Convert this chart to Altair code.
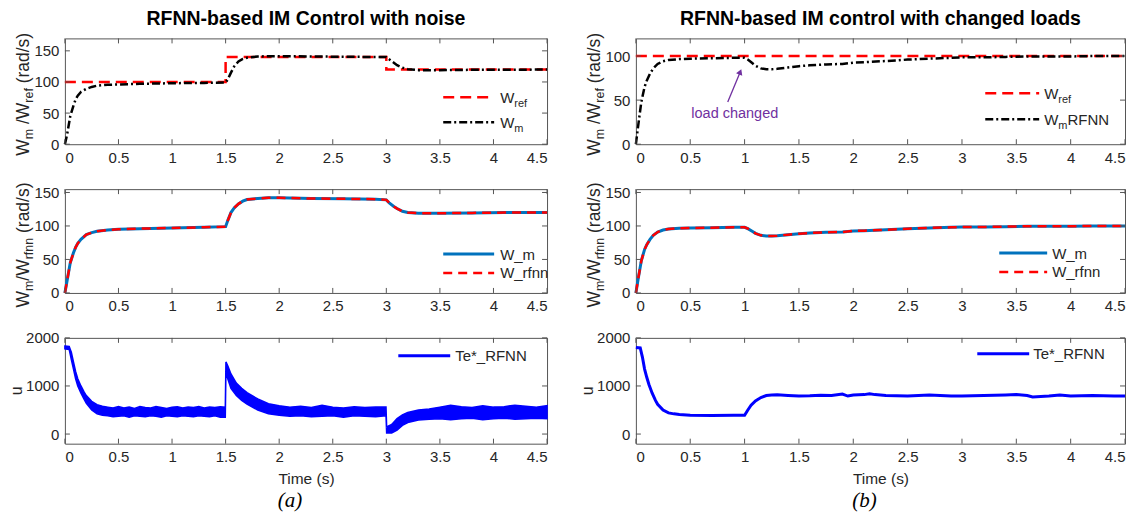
import altair as alt
import pandas as pd

FONT = "Liberation Sans"
SERIF = "Liberation Serif"
TXT = "#262626"
FRAME = "#555555"
RED = "#ff0000"
BLACK = "#000000"
MBLUE = "#0072bd"
BLUE = "#0000ff"
PURPLE = "#7030a0"

# ---------------- data ----------------
XTICKS = [0, 0.5, 1, 1.5, 2, 2.5, 3, 3.5, 4, 4.5]

# (a) top: speed reference and measured speed
A1_REF_T = [0, 1.5, 1.5, 3.0, 3.0, 4.5]
A1_REF_V = [100, 100, 140, 140, 120, 120]
A1_WM_T = [0, 0.02, 0.05, 0.08, 0.1, 0.12, 0.15, 0.2, 0.25, 0.3, 0.4, 0.5, 0.7, 1.0, 1.3, 1.5,
           1.52, 1.55, 1.58, 1.62, 1.66, 1.7, 1.8, 2.0, 2.3, 2.6, 3.0, 3.03, 3.07, 3.1, 3.15,
           3.2, 3.3, 3.5, 3.8, 4.1, 4.5]
A1_WM_V = [0, 15, 45, 62, 72, 78, 84, 89, 92, 94, 95.5, 96, 97, 98, 98.5, 99,
           104, 115, 125, 133, 137, 139, 141, 141.5, 141, 140.5, 140, 136, 131, 127, 123,
           120.5, 119, 119, 119.5, 119.5, 120]

# (a) middle: W_m and W_rfnn
A2_T = [0, 0.02, 0.05, 0.08, 0.1, 0.12, 0.15, 0.2, 0.25, 0.3, 0.4, 0.5, 0.7, 1.0, 1.3, 1.5,
        1.52, 1.55, 1.58, 1.62, 1.66, 1.7, 1.8, 1.9, 2.0, 2.3, 2.6, 2.9, 3.0, 3.03, 3.07, 3.1,
        3.15, 3.2, 3.3, 3.5, 3.8, 4.1, 4.5]
A2_WM = [0, 18, 45, 60, 68, 74, 80, 87, 90, 92, 94, 95, 96, 97, 98, 99,
         108, 120, 127, 133, 137, 139.5, 141, 142, 142, 141, 140.5, 140, 139, 134, 129, 126,
         122, 120, 119, 119, 119.5, 120, 120]
A2_WRFNN = [0, 18, 45, 60, 68, 74, 80, 87, 90, 92, 94, 95, 96, 97, 98, 99,
            108, 120, 127, 133, 137, 139.5, 141, 142, 142, 141, 140.5, 140, 139, 134, 129, 126,
            122, 120, 119, 119, 119.5, 120, 120]

# (a) bottom: control effort band (upper / lower edge of the noisy trace)
A3_T = [0, 0.04, 0.06, 0.08, 0.1, 0.12, 0.15, 0.18, 0.2, 0.25, 0.3, 0.35, 0.4, 0.45, 0.5,
        0.55, 0.6, 0.65, 0.7, 0.75, 0.8, 0.85, 0.9, 0.95, 1.0, 1.05, 1.1, 1.15, 1.2, 1.25,
        1.3, 1.35, 1.4, 1.45, 1.497, 1.503, 1.52, 1.55, 1.6, 1.65, 1.7, 1.8, 1.9,
        2.0, 2.1, 2.2, 2.3, 2.4, 2.5, 2.6, 2.7, 2.8, 2.9, 2.997, 3.003, 3.05, 3.1, 3.15,
        3.2, 3.3, 3.4, 3.5, 3.6, 3.7, 3.8, 3.9, 4.0, 4.1, 4.2, 4.3, 4.4, 4.5]
A3_HI = [1830, 1820, 1700, 1500, 1300, 1150, 1000, 870, 800, 680, 610, 580, 560, 540, 570,
         540, 560, 530, 570, 550, 540, 570, 550, 530, 560, 570, 540, 560, 550, 570,
         540, 560, 550, 570, 560, 1500, 1420, 1250, 1060, 950, 860, 730, 630,
         590, 560, 580, 550, 600, 560, 540, 570, 550, 560, 560, 150, 200, 320, 400,
         450, 500, 520, 560, 600, 570, 550, 590, 560, 570, 600, 580, 560, 590]
A3_LO = [1770, 1760, 1550, 1350, 1150, 1000, 850, 720, 640, 500, 420, 390, 380, 360, 370,
         380, 350, 380, 370, 360, 380, 370, 350, 380, 370, 360, 380, 370, 360, 380,
         370, 360, 380, 350, 350, 1300, 1150, 950, 800, 700, 620, 500, 420,
         390, 370, 380, 360, 370, 380, 350, 380, 370, 360, 380, 20, 20, 80, 180,
         240, 290, 310, 320, 300, 320, 330, 300, 320, 330, 310, 320, 330, 320]

# (b) top
B1_REF_T = [0, 4.5]
B1_REF_V = [100, 100]
B1_T = [0, 0.02, 0.05, 0.08, 0.1, 0.13, 0.16, 0.2, 0.25, 0.3, 0.4, 0.5, 0.7, 0.9, 1.0, 1.03,
        1.07, 1.1, 1.15, 1.2, 1.25, 1.3, 1.4, 1.5, 1.6, 1.75, 1.9, 2.0, 2.1, 2.25, 2.4, 2.5,
        2.7, 2.9, 3.0, 3.2, 3.4, 3.6, 3.8, 4.0, 4.2, 4.5]
B1_WM = [0, 20, 48, 65, 72, 80, 86, 91, 94, 95.5, 96.5, 97, 97.5, 98, 98, 96,
         92, 89, 86, 85, 85, 85.5, 87, 88.5, 89.5, 90.5, 91, 92.5, 93, 94, 95, 96,
         97, 98, 98.5, 98.5, 99, 99.5, 99.5, 99.5, 100, 100]

# (b) middle
B2_T = B1_T
B2_WM = [0, 20, 48, 65, 72, 80, 86, 91, 94, 95.5, 96.5, 97, 97.5, 98, 98, 96,
         92, 89, 86, 85, 85, 85.5, 87, 88.5, 89.5, 90.5, 91, 92.5, 93, 94, 95, 96,
         97, 98, 98.5, 98.5, 99, 99.5, 99.5, 99.5, 100, 100]
B2_WRFNN = B2_WM

# (b) bottom
B3_T = [0, 0.04, 0.06, 0.08, 0.1, 0.12, 0.15, 0.18, 0.2, 0.25, 0.3, 0.35, 0.4, 0.5, 0.7, 0.9,
        1.0, 1.03, 1.06, 1.1, 1.15, 1.2, 1.25, 1.3, 1.4, 1.5, 1.6, 1.7, 1.8, 1.9, 1.95, 2.0,
        2.1, 2.15, 2.2, 2.3, 2.5, 2.7, 2.9, 3.0, 3.2, 3.4, 3.5, 3.6, 3.65, 3.8, 3.9, 4.0, 4.2,
        4.4, 4.5]
B3_TE = [1800, 1790, 1600, 1350, 1180, 1030, 850, 700, 620, 500, 440, 420, 405, 390, 385, 390,
         390, 500, 600, 690, 760, 800, 810, 815, 800, 790, 795, 805, 800, 830, 790, 810,
         820, 840, 820, 800, 790, 810, 790, 790, 800, 810, 820, 800, 770, 790, 810, 790, 800,
         790, 790]

ANNOT_T = [0.91]
ANNOT_V = [34]
ARROW_T = [0.845]
ARROW_V = [48]
ARROW_T2 = [0.96]
ARROW_V2 = [82]

# ---------------- helpers ----------------
ONE = pd.DataFrame({"k": [0]})
CW = {" ": 278, "(": 333, ")": 333, "/": 278, "W": 944, "a": 556, "d": 556, "e": 556,
      "f": 278, "m": 833, "n": 556, "r": 333, "s": 500, "u": 556, "R": 722, "F": 611,
      "N": 722, "T": 611, "*": 389, "_": 556, "l": 222, "o": 556, "c": 500, "h": 556,
      "g": 556, "i": 222, "t": 278}


def tw(s, size):
    return sum(CW.get(c, 556) for c in s) / 1000.0 * size


def xsc():
    return alt.Scale(domain=[0, 4.5], nice=False, zero=False)


def ysc(dom):
    return alt.Scale(domain=dom, nice=False, zero=False)


def xaxis(title=""):
    return alt.Axis(values=XTICKS, format="~g", labelPadding=6, title=title, titlePadding=7)


def yaxis(vals):
    return alt.Axis(values=vals, format="d", labelPadding=6, title="")


def df(**cols):
    d = pd.DataFrame(cols)
    d["i"] = range(len(d))
    return d


class P:
    """Encoding factory for one panel, so that every layer shares identical scales/axes."""

    def __init__(self, dom, yticks, xtitle=""):
        self.dom = dom
        self.yticks = yticks
        self.xtitle = xtitle

    def x(self, f):
        return alt.X(f"{f}:Q", scale=xsc(), axis=xaxis(self.xtitle))

    def y(self, f):
        return alt.Y(f"{f}:Q", scale=ysc(self.dom), axis=yaxis(self.yticks))


def frame_ticks(p, W, H):
    xt = pd.DataFrame({"tv": XTICKS})
    yt = pd.DataFrame({"yv": p.yticks})
    base_x = alt.Chart(xt).mark_rule(color=FRAME, strokeWidth=1)
    base_y = alt.Chart(yt).mark_rule(color=FRAME, strokeWidth=1)
    return [
        base_x.encode(x=p.x("tv"), y=alt.value(H), y2=alt.value(H - 5)),
        base_x.encode(x=p.x("tv"), y=alt.value(0), y2=alt.value(5)),
        base_y.encode(y=p.y("yv"), x=alt.value(0), x2=alt.value(5)),
        base_y.encode(y=p.y("yv"), x=alt.value(W - 5), x2=alt.value(W)),
    ]


def ytitle(pieces, xb, yc, size=17.5, subsize=12.5, shift=4.5):
    total = sum(tw(p, subsize if s else size) for p, s in pieces)
    y = yc + total / 2.0
    out = []
    for p, s in pieces:
        fs = subsize if s else size
        lead = len(p) - len(p.lstrip(" "))
        txt = p.strip(" ")
        out.append(
            alt.Chart(ONE).mark_text(text=txt, angle=270, align="left", baseline="alphabetic",
                                     font=FONT, fontSize=fs, color=TXT)
            .encode(x=alt.value(xb + (shift if s else 0)), y=alt.value(y - tw(" " * lead, fs)))
        )
        y -= tw(p, fs)
    return out


def legend_item(x0, x1, y, color, width, dash, pieces, tx, size=15, subsize=11):
    kw = dict(color=color, strokeWidth=width)
    if dash:
        kw["strokeDash"] = dash
    out = [alt.Chart(ONE).mark_rule(**kw).encode(x=alt.value(x0), x2=alt.value(x1), y=alt.value(y))]
    x = tx
    for p, s in pieces:
        fs = subsize if s else size
        out.append(
            alt.Chart(ONE).mark_text(text=p, align="left", baseline="alphabetic", font=FONT,
                                     fontSize=fs, color=TXT)
            .encode(x=alt.value(x), y=alt.value(y + 5.5 + (4 if s else 0)))
        )
        x += tw(p, fs)
    return out


def line_layer(p, d, fld, color, width, dash=None):
    kw = dict(color=color, strokeWidth=width)
    if dash:
        kw["strokeDash"] = dash
    return alt.Chart(d).mark_line(**kw).encode(x=p.x("t"), y=p.y(fld), order="i:Q")


def caption(W, H, text):
    return alt.Chart(ONE).mark_text(text=text, font=SERIF, fontStyle="italic", fontSize=21,
                                    color=BLACK, align="center", baseline="middle").encode(
        x=alt.value(W / 2 - 16), y=alt.value(H + 57))


DASH_REF = [11, 6]
DASH_DOT = [8, 3, 2, 3]
DASH_RF = [9, 6]

WL, WR = 483, 490
H1, H2, H3 = 106, 104, 106

TITLE_A = "RFNN-based IM Control with noise"
TITLE_B = "RFNN-based IM control with changed loads"

pa1 = P([0, 170], [0, 50, 100, 150])
pa2 = P([0, 155], [0, 50, 100, 150])
pa3 = P([-200, 2000], [0, 1000, 2000], "Time (s)")
pb1 = P([0, 120], [0, 50, 100])
pb2 = P([0, 155], [0, 50, 100, 150])
pb3 = P([-200, 2000], [0, 1000, 2000], "Time (s)")

YT_TOP = [("W", 0), ("m", 1), (" /W", 0), ("ref", 1), (" (rad/s)", 0)]
YT_MID = [("W", 0), ("m", 1), ("/W", 0), ("rfnn", 1), (" (rad/s)", 0)]

# ---------------- panel (a) ----------------
a1 = alt.layer(
    line_layer(pa1, df(t=A1_REF_T, v=A1_REF_V), "v", RED, 2.5, DASH_REF),
    line_layer(pa1, df(t=A1_WM_T, v=A1_WM_V), "v", BLACK, 2.5, DASH_DOT),
    *frame_ticks(pa1, WL, H1),
    *legend_item(379, 430, 59, RED, 2.5, DASH_REF, [("W", 0), ("ref", 1)], 436),
    *legend_item(379, 430, 84, BLACK, 2.5, DASH_DOT, [("W", 0), ("m", 1)], 436),
    *ytitle(YT_TOP, -36, H1 / 2 + 3),
).properties(width=WL, height=H1, title=alt.TitleParams(TITLE_A))

d_a2 = df(t=A2_T, wm=A2_WM, wr=A2_WRFNN)
a2 = alt.layer(
    line_layer(pa2, d_a2, "wm", MBLUE, 3),
    line_layer(pa2, d_a2, "wr", RED, 2.5, DASH_RF),
    *frame_ticks(pa2, WL, H2),
    *legend_item(379, 430, 65, MBLUE, 3, None, [("W_m", 0)], 436),
    *legend_item(379, 430, 84, RED, 2.5, DASH_RF, [("W_rfnn", 0)], 436),
    *ytitle(YT_MID, -36, H2 / 2 + 4),
).properties(width=WL, height=H2)

d_a3 = pd.DataFrame({"t": A3_T, "hi": A3_HI, "lo": A3_LO})
a3 = alt.layer(
    alt.Chart(d_a3).mark_area(color=BLUE, opacity=1, stroke=BLUE, strokeWidth=1.5).encode(
        x=pa3.x("t"), y=pa3.y("hi"), y2="lo:Q"),
    *frame_ticks(pa3, WL, H3),
    *legend_item(334, 386, 18, BLUE, 3, None, [("Te*_RFNN", 0)], 391),
    *ytitle([("u", 0)], -43, H3 / 2, size=16),
    caption(WL, H3, "(a)"),
).properties(width=WL, height=H3)

# ---------------- panel (b) ----------------
d_ann = pd.DataFrame({"t": ANNOT_T, "v": ANNOT_V})
d_arr = pd.DataFrame({"t": ARROW_T, "v": ARROW_V, "t2": ARROW_T2, "v2": ARROW_V2})
b1 = alt.layer(
    line_layer(pb1, df(t=B1_REF_T, v=B1_REF_V), "v", RED, 2.5, DASH_REF),
    line_layer(pb1, df(t=B1_T, v=B1_WM), "v", BLACK, 2.5, DASH_DOT),
    alt.Chart(d_arr).mark_rule(color=PURPLE, strokeWidth=1.3).encode(
        x=pb1.x("t"), x2="t2:Q", y=pb1.y("v"), y2="v2:Q"),
    alt.Chart(d_arr).mark_point(shape="triangle-up", filled=True, color=PURPLE, size=45,
                                angle=22, opacity=1).encode(x=pb1.x("t2"), y=pb1.y("v2")),
    alt.Chart(d_ann).mark_text(text="load changed", color=PURPLE, font=FONT, fontSize=14.5,
                               align="center", baseline="middle").encode(
        x=pb1.x("t"), y=pb1.y("v")),
    *frame_ticks(pb1, WR, H1),
    *legend_item(350, 404, 55, RED, 2.5, DASH_REF, [("W", 0), ("ref", 1)], 409),
    *legend_item(350, 404, 81, BLACK, 2.5, DASH_DOT, [("W", 0), ("m", 1), ("RFNN", 0)], 409),
    *ytitle(YT_TOP, -36, H1 / 2 + 3),
).properties(width=WR, height=H1, title=alt.TitleParams(TITLE_B))

d_b2 = df(t=B2_T, wm=B2_WM, wr=B2_WRFNN)
b2 = alt.layer(
    line_layer(pb2, d_b2, "wm", MBLUE, 3),
    line_layer(pb2, d_b2, "wr", RED, 2.5, DASH_RF),
    *frame_ticks(pb2, WR, H2),
    *legend_item(364, 412, 64, MBLUE, 3, None, [("W_m", 0)], 417),
    *legend_item(364, 412, 83, RED, 2.5, DASH_RF, [("W_rfnn", 0)], 417),
    *ytitle(YT_MID, -36, H2 / 2 + 4),
).properties(width=WR, height=H2)

b3 = alt.layer(
    line_layer(pb3, df(t=B3_T, v=B3_TE), "v", BLUE, 3),
    *frame_ticks(pb3, WR, H3),
    *legend_item(342, 394, 16, BLUE, 3, None, [("Te*_RFNN", 0)], 398),
    *ytitle([("u", 0)], -43, H3 / 2, size=16),
    caption(WR, H3, "(b)"),
).properties(width=WR, height=H3)

chart = alt.concat(
    a1, b1, a2, b2, a3, b3, columns=2,
    spacing={"row": 45, "column": 89}, bounds="flush",
).properties(
    padding={"left": 0, "top": 0, "right": 2, "bottom": 0}, background="white"
).configure_view(stroke=FRAME, strokeWidth=1).configure_axis(
    labelFont=FONT, labelFontSize=15, labelColor=TXT, titleFont=FONT, titleFontSize=15.5,
    titleColor=TXT, titleFontWeight="normal", ticks=False, domain=False, grid=False,
).configure_title(font=FONT, fontSize=19.5, fontWeight="bold", color=BLACK, offset=3,
                  anchor="middle")

chart.save("out.html", embed_options={"renderer": "svg", "actions": False})
